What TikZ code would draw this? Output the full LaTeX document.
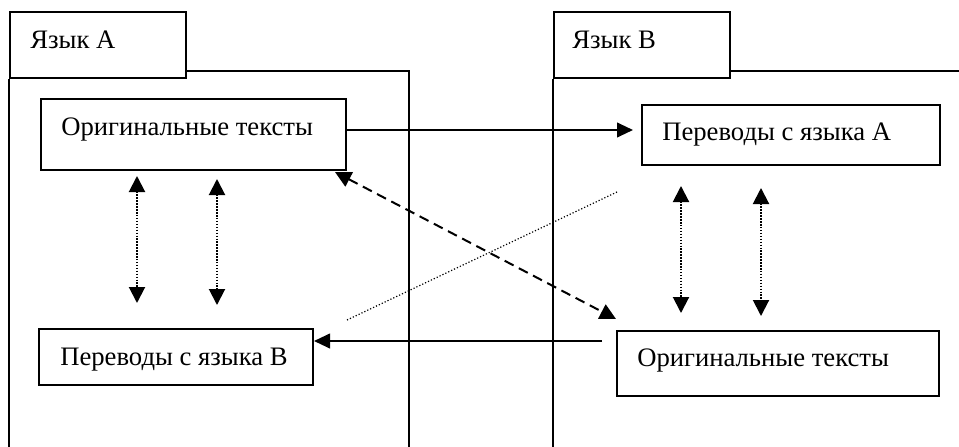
\documentclass[tikz,border=0pt]{standalone}
\usepackage{fontspec}
\setmainfont{Liberation Serif}
\usetikzlibrary{arrows.meta,calc}

\tikzset{
  boxline/.style={draw=black, line width=1.5pt},
  panel/.style={draw=black, line width=1.5pt},
  tabbox/.style={boxline, rectangle, anchor=north west, inner sep=0pt,
                 minimum width=132pt, minimum height=49.5pt},
  textbox/.style={boxline, rectangle, anchor=north west, inner sep=0pt},
  label/.style={anchor=base west, inner sep=0pt,
                font=\fontsize{20}{24}\selectfont},
  headtip/.style={Triangle[length=12pt,width=12pt]},
  solidarr/.style={-{Triangle[length=12pt,width=11pt]}, line width=1.5pt},
  dottedarr/.style={{Triangle[length=12pt,width=12pt]}-{Triangle[length=12pt,width=12pt]},
                    line width=1.5pt, dash pattern=on 1.1pt off 1.1pt},
  dashedarr/.style={{Triangle[length=12pt,width=12pt]}-{Triangle[length=12pt,width=12pt]},
                    line width=1.5pt, dash pattern=on 7.5pt off 4.5pt},
  thindots/.style={line width=0.9pt, dash pattern=on 0.9pt off 1.5pt},
}

\begin{document}
\begin{tikzpicture}[x=0.75pt,y=-0.75pt]
  \useasboundingbox (0,0) rectangle (959,446);

  % panel for language A
  \node[tabbox] (tabA) at (9,11) {};
  \node[label] (tabAtext) at (30,48) {Язык А};
  \draw[panel] (tabA.north east |- 0,71) -- (409,71) -- (409,450);
  \draw[panel] (tabA.south west) -- (9,450);

  % panel for language B
  \node[tabbox] (tabB) at (553,11) {};
  \node[label] (tabBtext) at (572,48) {Язык В};
  \draw[panel] (tabB.north east |- 0,71) -- (965,71);
  \draw[panel] (tabB.south west) -- (553,450);

  % text boxes
  \node[textbox, minimum width=228.75pt, minimum height=53.25pt] (oA) at (40,98) {};
  \node[label] (oAtext) at (61,135) {Оригинальные тексты};

  \node[textbox, minimum width=223.5pt, minimum height=45pt] (tA) at (641,104) {};
  \node[label] (tAtext) at (662,140) {Переводы с языка А};

  \node[textbox, minimum width=205.5pt, minimum height=42pt] (tB) at (38,328) {};
  \node[label] (tBtext) at (60,365) {Переводы с языка В};

  \node[textbox, minimum width=241.5pt, minimum height=48.75pt] (oB) at (616,330) {};
  \node[label] (oBtext) at (637,366) {Оригинальные тексты};

  % translation flows
  \draw[solidarr] (oA.east |- 0,130) -- ($(tA.west |- 0,130)+(-8,0)$);
  \draw[solidarr] ($(oB.west |- 0,341)+(-14,0)$) -- (tB.east |- 0,341);

  % cross links
  \draw[dashedarr] ($(oA.south east)+(-12,1)$) -- ($(oB.north west)+(0,-11)$);
  \draw[thindots] ($(tB.north east)+(33,-8)$) -- ($(tA.south west)+(-24,26)$);

  % vertical links inside language A
  \draw[dottedarr] ($(oA.south west)+(97,5)$) -- ($(tB.north west)+(99,-25)$);
  \draw[dottedarr] ($(oA.south west)+(177,8)$) -- ($(tB.north west)+(179,-23)$);

  % vertical links inside language B
  \draw[dottedarr] ($(tA.south west)+(40,20)$) -- ($(oB.north west)+(65,-17)$);
  \draw[dottedarr] ($(tA.south west)+(120,22)$) -- ($(oB.north west)+(145,-14)$);
\end{tikzpicture}
\end{document}
